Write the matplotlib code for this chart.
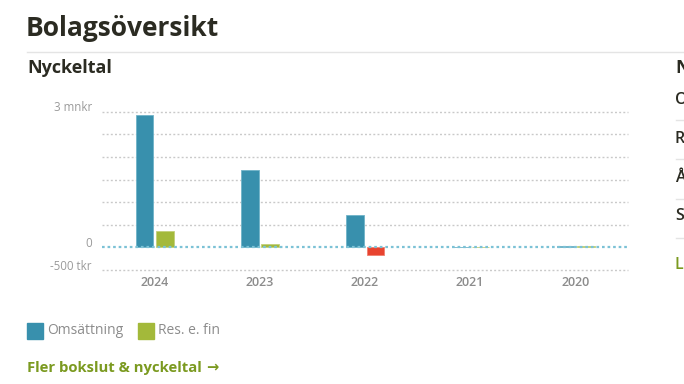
import matplotlib
matplotlib.use("Agg")
import matplotlib.pyplot as plt
from matplotlib.patches import Rectangle
from matplotlib.lines import Line2D
from matplotlib.transforms import ScaledTranslation

plt.rcParams['font.family'] = ['Open Sans', 'DejaVu Sans']

# data (tkr)
years = ['2024', '2023', '2022', '2021', '2020']
omsattning = [2920, 1720, 710, 15, 40]
res_e_fin = [355, 85, -165, 0, 20]
grid_values = [-500, 500, 1000, 1500, 2000, 2500, 3000]
ytick_values = [3000, 0, -500]
ytick_labels = ['3 mnkr', '0', '-500 tkr']
right_items = ['O', 'R', 'Å', 'S']

blue = '#3890ad'
green = '#a3b93a'
red = '#e8432f'
dark = '#2b2b22'
gray = '#8c8c8c'
link_green = '#7b9a20'

W, H = 684, 384
fig = plt.figure(figsize=(W / 100, H / 100), dpi=100)


def fx(px):
    return px / W


def fy(py):
    return 1 - py / H


# header
fig.text(fx(26), fy(36.5), 'Bolagsöversikt', fontsize=19, fontweight='bold',
         color=dark, va='baseline')
fig.add_artist(Line2D([fx(27), 1], [fy(52.3), fy(52.3)], color='#e4e4e4', lw=1))
fig.text(fx(27), fy(73), 'Nyckeltal', fontsize=13, fontweight='bold',
         color=dark, va='baseline')
fig.text(fx(675), fy(73), 'N', fontsize=13, fontweight='bold', color=dark, va='baseline')
for i, s in enumerate(right_items):
    fig.text(fx(675), fy(100 + i * 38.8), s, fontsize=11.5, fontweight='semibold',
             color=dark, va='center')
    fig.add_artist(Line2D([fx(676), 1], [fy(120 + i * 39.3)] * 2, color='#e4e4e4', lw=1))
fig.text(fx(675), fy(265), 'L', fontsize=11.5, fontweight='semibold',
         color=link_green, va='center')

# chart
x0, x1, ytop, ybot = 101.7, 628, 111.7, 270
ax = fig.add_axes([fx(x0), fy(ybot), fx(x1 - x0), (ybot - ytop) / H])
ax.set_xlim(-0.5, len(years) - 0.5)
ax.set_ylim(-500, 3000)
for s in ax.spines.values():
    s.set_visible(False)

for v in grid_values:
    ax.axhline(v, color='#c9c9c9', lw=1, linestyle=(0, (1.4, 1.6)), clip_on=False, zorder=0)

xs = list(range(len(years)))
bw = 0.165
ax.bar([x - 0.092 for x in xs], omsattning, width=bw, color=blue,
       edgecolor='#6fb3c9', linewidth=0.6, zorder=2)
res_colors = [green if v >= 0 else red for v in res_e_fin]
res_edges = ['#c2d07a' if v >= 0 else '#f08070' for v in res_e_fin]
ax.bar([x + 0.1 for x in xs], res_e_fin, width=bw, color=res_colors,
       edgecolor=res_edges, linewidth=0.6, zorder=2)
ax.axhline(0, color='#7cc2d6', lw=1.6, linestyle=(0, (1.2, 1.3)), zorder=3)

ax.set_xticks(xs)
ax.set_xticklabels(years, fontsize=9, fontweight='semibold', color=gray)
ax.tick_params(axis='x', length=0, pad=4.5)
ax.set_yticks(ytick_values)
ax.set_yticklabels(ytick_labels, fontsize=8.3, color='#9a9a9a')
ax.tick_params(axis='y', length=0, pad=7)
shift = ScaledTranslation(0, 5.5 / 100, fig.dpi_scale_trans)
for lab in ax.get_yticklabels():
    lab.set_transform(lab.get_transform() + shift)

# legend
for lx, name, c in [(27, 'Omsättning', blue), (138, 'Res. e. fin', green)]:
    fig.add_artist(Rectangle((fx(lx), fy(338.5)), fx(16), 16 / H, color=c,
                             transform=fig.transFigure))
    fig.text(fx(lx + 20.5), fy(330.5), name, fontsize=10, color=gray, va='center')

fig.text(fx(27), fy(368), 'Fler bokslut & nyckeltal', fontsize=10.7,
         fontweight='bold', color=link_green, va='center')
fig.text(fx(206), fy(367), '→', fontsize=10.5, fontweight='bold',
         color=link_green, va='center', family=['DejaVu Sans'])

fig.savefig('out.png', dpi=100)
